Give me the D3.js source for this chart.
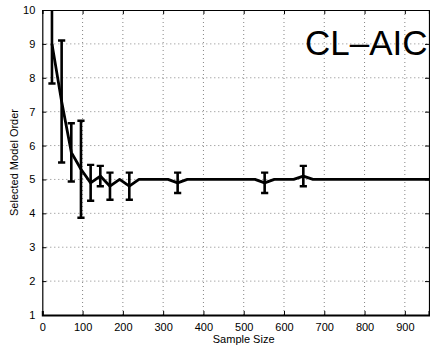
<!DOCTYPE html>
<html><head><meta charset="utf-8">
<script src="https://cdn.jsdelivr.net/npm/d3@7"></script>
<style>body{margin:0;background:#fff}svg{display:block}text{font-family:Arial,"Liberation Sans",Helvetica,sans-serif}</style>
</head><body><svg id="c" width="430" height="347"></svg>
<script>
const sampleSizes = d3.range(1, 41).map(i => i * 24);
const meanOrder = [9.0,7.3,5.8,5.3,4.9,5.1,4.8,5.0,4.8,5.0,5.0,5.0,5.0,4.9,5.0,5.0,5.0,5.0,5.0,5.0,5.0,5.0,4.9,5.0,5.0,5.0,5.1,5.0,5.0,5.0,5.0,5.0,5.0,5.0,5.0,5.0,5.0,5.0,5.0,5.0];
const stdOrder  = [1.17,1.8,0.86,1.43,0.53,0.3,0.4,0,0.4,0,0,0,0,0.3,0,0,0,0,0,0,0,0,0.3,0,0,0,0.3,0,0,0,0,0,0,0,0,0,0,0,0,0];
const xTicks = [0,100,200,300,400,500,600,700,800,900];
const yTicks = [1,2,3,4,5,6,7,8,9,10];
const xLabel = "Sample Size", yLabel = "Selected Model Order", title = "CL\u2013AIC";

const svg = d3.select("#c");
const L = 42.3, R = 429, T = 10, B = 315;
const x = d3.scaleLinear().domain([0, 960]).range([L, R]);
const y = d3.scaleLinear().domain([1, 10]).range([B, T]);
const data = sampleSizes.map((s, i) => ({s, m: meanOrder[i], sd: stdOrder[i]}));

const defs = svg.append("defs");
defs.append("clipPath").attr("id","clip").append("rect").attr("x",L).attr("y",T).attr("width",R-L).attr("height",B-T);

// grid
const g = svg.append("g");
g.selectAll(".gx").data(xTicks.filter(d => d > 0)).join("line")
  .attr("x1", d => x(d)).attr("x2", d => x(d)).attr("y1", T).attr("y2", B)
  .attr("stroke", "#666").attr("stroke-width", 0.8).attr("stroke-dasharray", "1,3");
g.selectAll(".gy").data(yTicks.filter(d => d > 1 && d < 10)).join("line")
  .attr("x1", L).attr("x2", R).attr("y1", d => y(d)).attr("y2", d => y(d))
  .attr("stroke", "#666").attr("stroke-width", 0.8).attr("stroke-dasharray", "1,3");

// axes
const ax = svg.append("g").attr("transform", `translate(0,${B})`)
  .call(d3.axisBottom(x).tickValues(xTicks).tickSize(-4).tickPadding(8).tickFormat(d3.format("d")));
const axT = svg.append("g").attr("transform", `translate(0,${T})`)
  .call(d3.axisTop(x).tickValues(xTicks).tickSize(-4).tickFormat(""));
const ay = svg.append("g").attr("transform", `translate(${L},0)`)
  .call(d3.axisLeft(y).tickValues(yTicks).tickSize(-4).tickPadding(7).tickFormat(d3.format("d")));
const ayR = svg.append("g").attr("transform", `translate(${R},0)`)
  .call(d3.axisRight(y).tickValues(yTicks).tickSize(-4).tickFormat(""));
[ax, axT, ay, ayR].forEach(a => {
  a.select(".domain").attr("stroke", "#000").attr("stroke-width", 1.2);
  a.selectAll(".tick line").attr("stroke", "#000");
  a.selectAll("text").attr("font-size", 11).attr("fill", "#000").attr("font-family", "Arial,'Liberation Sans',sans-serif");
});
ax.select(".domain").attr("stroke-width", 2);

// data
const plot = svg.append("g").attr("clip-path", "url(#clip)");
plot.append("path").datum(data)
  .attr("fill", "none").attr("stroke", "#000").attr("stroke-width", 2.8).attr("stroke-linejoin", "round")
  .attr("d", d3.line().x(d => x(d.s)).y(d => y(d.m)));
const eb = plot.selectAll(".eb").data(data.filter(d => d.sd > 0)).join("g");
eb.append("line").attr("x1", d => x(d.s)).attr("x2", d => x(d.s))
  .attr("y1", d => y(d.m - d.sd)).attr("y2", d => y(d.m + d.sd))
  .attr("stroke", "#000").attr("stroke-width", 2.6);
[-1, 1].forEach(k => {
  eb.append("line").attr("x1", d => x(d.s) - 3.6).attr("x2", d => x(d.s) + 3.6)
    .attr("y1", d => y(d.m + k * d.sd)).attr("y2", d => y(d.m + k * d.sd))
    .attr("stroke", "#000").attr("stroke-width", 2.4);
});

// labels
svg.append("text").attr("x", (L + R) / 2 + 8).attr("y", 342.5).attr("text-anchor", "middle")
  .attr("font-size", 11).text(xLabel);
svg.append("text").attr("transform", `translate(17.5,${(T + B) / 2}) rotate(-90)`).attr("text-anchor", "middle")
  .attr("font-size", 11).text(yLabel);
svg.append("text").attr("x", 305).attr("y", 55).attr("font-size", 35).attr("fill", "#000").text(title);
</script></body></html>
